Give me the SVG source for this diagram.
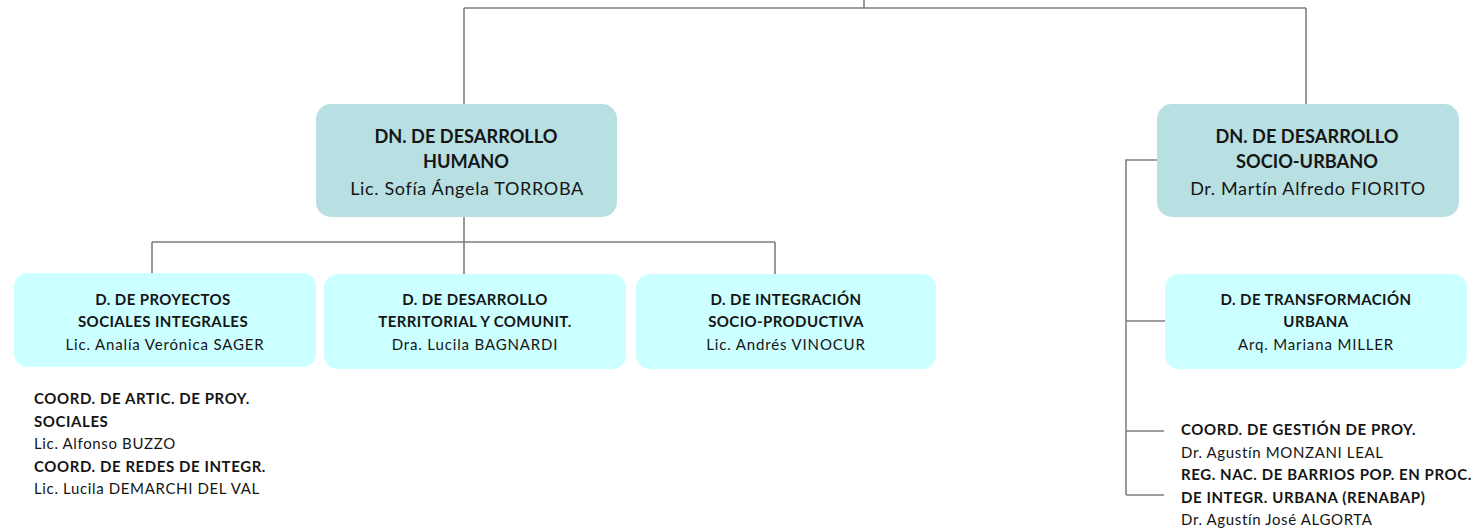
<svg xmlns="http://www.w3.org/2000/svg" width="1479" height="530" viewBox="0 0 1479 530">
<style>
.c{fill:none;stroke:#7f7f7f;stroke-width:1.6}
.bx1{fill:#b8e0e3}
.bx2{fill:#ccffff}
text{font-family:Lato,"Open Sans","Liberation Sans",sans-serif;fill:#151515}
.m{text-anchor:middle}
.mb{font-size:18.2px;font-weight:bold}
.mr{font-size:18px;letter-spacing:0.65px}
.sb{font-size:15px;font-weight:bold;letter-spacing:0.4px}
.sr{font-size:15px;letter-spacing:0.85px}
.lb{font-size:15px;font-weight:bold;letter-spacing:0.58px}
.lr{font-size:15px;letter-spacing:0.64px}
</style>
<g id="connectors">
<path class="c" d="M864 0V8M464 8H1306M464 8V104M1306 8V104"/>
<path class="c" d="M464 217V242M152 242H775M152 242V273M464 242V274M775 242V274"/>
<path class="c" d="M1157 160H1126V495M1126 321H1165M1126 431H1164M1126 495H1164"/>
</g>
<g id="dn-humano">
<rect class="bx1" x="316" y="104" width="301" height="113" rx="15"/>
<text class="m mb" x="466" y="143">DN. DE DESARROLLO</text>
<text class="m mb" x="466" y="168">HUMANO</text>
<text class="m mr" x="467" y="195">Lic. Sofía Ángela TORROBA</text>
</g>
<g id="dn-socio-urbano">
<rect class="bx1" x="1157" y="104" width="302" height="113" rx="15"/>
<text class="m mb" x="1307" y="143">DN. DE DESARROLLO</text>
<text class="m mb" x="1307" y="168">SOCIO-URBANO</text>
<text class="m mr" x="1308" y="195">Dr. Martín Alfredo FIORITO</text>
</g>
<g id="d-proyectos">
<rect class="bx2" x="14" y="273" width="302" height="94" rx="14"/>
<text class="m sb" x="163" y="305">D. DE PROYECTOS</text>
<text class="m sb" x="163" y="327">SOCIALES INTEGRALES</text>
<text class="m sr" x="165" y="350">Lic. Analía Verónica SAGER</text>
</g>
<g id="d-territorial">
<rect class="bx2" x="324" y="274" width="302" height="95" rx="14"/>
<text class="m sb" x="475" y="305">D. DE DESARROLLO</text>
<text class="m sb" x="475" y="327">TERRITORIAL Y COMUNIT.</text>
<text class="m sr" x="475" y="350">Dra. Lucila BAGNARDI</text>
</g>
<g id="d-integracion">
<rect class="bx2" x="636" y="274" width="300" height="95" rx="14"/>
<text class="m sb" x="786" y="305">D. DE INTEGRACIÓN</text>
<text class="m sb" x="786" y="327">SOCIO-PRODUCTIVA</text>
<text class="m sr" x="786" y="350">Lic. Andrés VINOCUR</text>
</g>
<g id="d-transformacion">
<rect class="bx2" x="1165" y="274" width="302" height="95" rx="14"/>
<text class="m sb" x="1316" y="305">D. DE TRANSFORMACIÓN</text>
<text class="m sb" x="1316" y="327">URBANA</text>
<text class="m sr" x="1316" y="350">Arq. Mariana MILLER</text>
</g>
<g id="coords-humano">
<text class="lb" x="34" y="404">COORD. DE ARTIC. DE PROY.</text>
<text class="lb" x="34" y="427">SOCIALES</text>
<text class="lr" x="34" y="449">Lic. Alfonso BUZZO</text>
<text class="lb" x="34" y="472">COORD. DE REDES DE INTEGR.</text>
<text class="lr" x="34" y="494">Lic. Lucila DEMARCHI DEL VAL</text>
</g>
<g id="coords-urbano">
<text class="lb" x="1181" y="435">COORD. DE GESTIÓN DE PROY.</text>
<text class="lr" x="1181" y="458">Dr. Agustín MONZANI LEAL</text>
<text class="lb" x="1181" y="480">REG. NAC. DE BARRIOS POP. EN PROC.</text>
<text class="lb" x="1181" y="503">DE INTEGR. URBANA (RENABAP)</text>
<text class="lr" x="1181" y="525">Dr. Agustín José ALGORTA</text>
</g>
</svg>
